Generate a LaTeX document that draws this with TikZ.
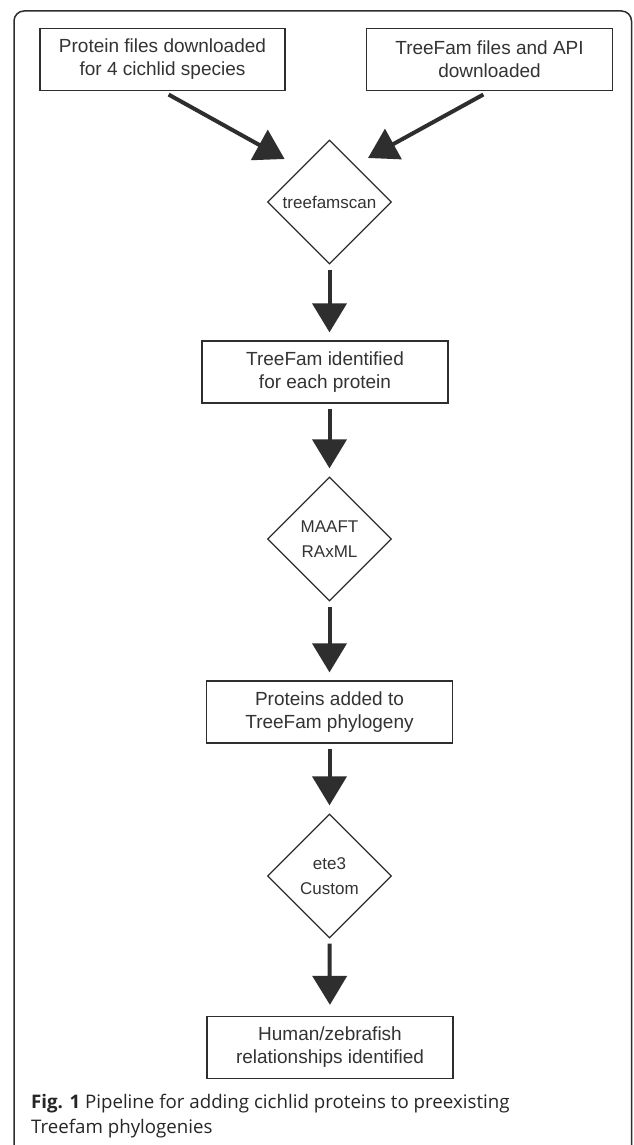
\documentclass[tikz,border=0pt]{standalone}
\usepackage{fontspec}
\setmainfont{Liberation Sans}
\newfontfamily\capfont{Open Sans}
\usetikzlibrary{arrows.meta,shapes.geometric}
\definecolor{ink}{HTML}{2E2E2E}
\definecolor{txt}{HTML}{333333}
\tikzset{
  stepbox/.style={draw=ink, line width=1.3pt, rectangle, minimum width=246pt, minimum height=62pt,
    inner sep=0pt, align=center, text=txt, font=\fontsize{19}{23}\selectfont},
  decision/.style={draw=ink, line width=1.3pt, diamond, aspect=1, minimum width=124pt, minimum height=124pt,
    inner sep=0pt, align=center, text=txt, font=\fontsize{17}{25}\selectfont},
  flow/.style={draw=ink, line width=4pt, -{Triangle[length=29pt,width=34pt]}, shorten <=5pt, shorten >=8pt},
  frameline/.style={draw=ink, line width=1.5pt, rounded corners=10pt}
}
\begin{document}
\begin{tikzpicture}[x=1pt,y=-1pt]
\useasboundingbox (0,0) rectangle (633,1145);
\fill[white] (0,0) rectangle (633,1145);
\clip (0,0) rectangle (633,1145);
\draw[frameline] (14,1170) -- (14,11) -- (631.5,11) -- (631.5,1170);

\node[stepbox, minimum width=245pt, minimum height=62pt] (b1) at (162.5,59.5) {Protein files downloaded\\for 4 cichlid species};
\node[stepbox, minimum height=62pt] (b2) at (489.5,59.5) {TreeFam files and API\\downloaded};
\node[decision] (d1) at (329.5,202) {treefamscan};
\node[stepbox] (b3) at (325,372) {TreeFam identified\\for each protein};
\node[decision] (d2) at (329.5,539) {MAAFT\\RAxML};
\node[stepbox] (b4) at (329.5,712) {Proteins added to\\TreeFam phylogeny};
\node[decision] (d3) at (329.5,876) {ete3\\Custom};
\node[stepbox] (b5) at (330,1047.5) {Human/zebrafish\\relationships identified};

\coordinate (t1) at (284.6,159);
\coordinate (t2) at (368,158);
\draw[flow, shorten >=0pt, shorten <=7pt] (b1.south) -- (t1);
\draw[flow, shorten >=0pt, shorten <=7pt] (b2.south) -- (t2);
\draw[flow] (d1.south) -- (d1.south |- b3.north);
\draw[flow] (d1.south |- b3.south) -- (d2.north);
\draw[flow] (d2.south) -- (b4.north);
\draw[flow] (b4.south) -- (d3.north);
\draw[flow, shorten >=11pt] (d3.south) -- (b5.north);

\node[anchor=north west, inner sep=0pt, align=left, text=black!85, font=\capfont\fontsize{18.7}{25}\selectfont] (cap) at (31,1094)
  {\textbf{Fig. 1} Pipeline for adding cichlid proteins to preexisting\\Treefam phylogenies};
\end{tikzpicture}
\end{document}
